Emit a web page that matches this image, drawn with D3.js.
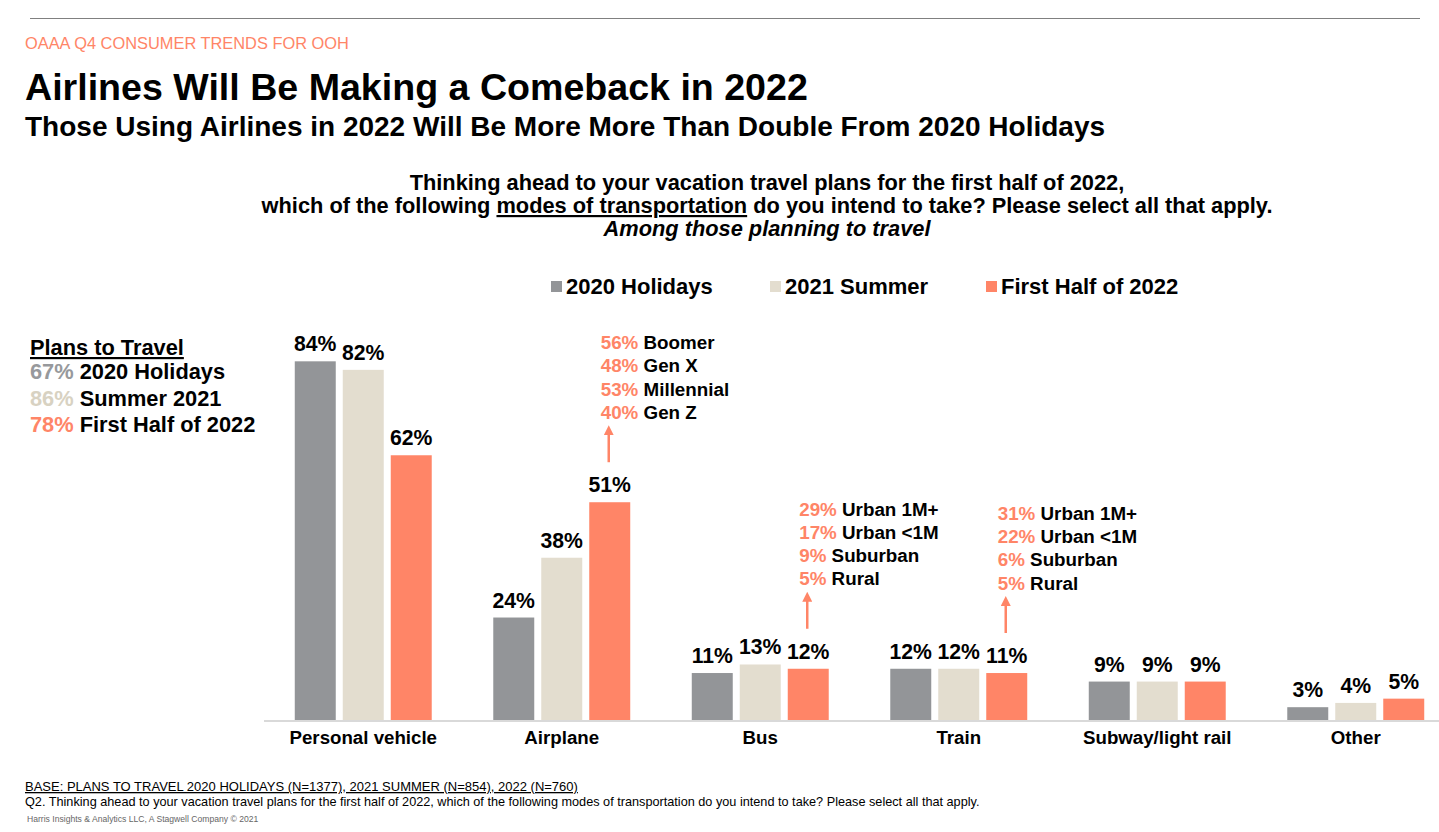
<!DOCTYPE html>
<html><head><meta charset="utf-8">
<script src="https://cdn.jsdelivr.net/npm/d3@7"></script>
<style>
body{margin:0;background:#fff;font-family:"Liberation Sans",Arial,sans-serif;}
svg text{font-family:"Liberation Sans",Arial,sans-serif;}
</style></head>
<body><svg id="c" width="1439" height="832"></svg>
<script>
const categories = ["Personal vehicle","Airplane","Bus","Train","Subway/light rail","Other"];
const seriesNames = ["2020 Holidays","2021 Summer","First Half of 2022"];
const holidays2020 = [84,24,11,12,9,3];
const summer2021 = [82,38,13,12,9,4];
const firstHalf2022 = [62,51,12,11,9,5];
const seriesValues = [holidays2020, summer2021, firstHalf2022];
const colors = ["#939598","#E3DDCF","#FF8567"];
const plansPct = ["67%","86%","78%"];
const plansLabels = ["2020 Holidays","Summer 2021","First Half of 2022"];
const plansColors = ["#97999C","#D8D2C2","#FF8567"];
const airplaneNotes = [["56%","Boomer"],["48%","Gen X"],["53%","Millennial"],["40%","Gen Z"]];
const busNotes = [["29%","Urban 1M+"],["17%","Urban <1M"],["9%","Suburban"],["5%","Rural"]];
const trainNotes = [["31%","Urban 1M+"],["22%","Urban <1M"],["6%","Suburban"],["5%","Rural"]];
const notes = [{cat:"Airplane",lines:airplaneNotes},{cat:"Bus",lines:busNotes},{cat:"Train",lines:trainNotes}];

const svg = d3.select("#c");
const orange = "#FF8567";

// header
svg.append("line").attr("x1",30).attr("x2",1420).attr("y1",18.5).attr("y2",18.5).attr("stroke","#808080").attr("stroke-width",1);
svg.append("text").attr("x",25).attr("y",49).attr("font-size",16.4).attr("fill",orange).text("OAAA Q4 CONSUMER TRENDS FOR OOH");
svg.append("text").attr("x",25).attr("y",100).attr("font-size",37.6).attr("font-weight","bold").text("Airlines Will Be Making a Comeback in 2022");
svg.append("text").attr("x",25).attr("y",136).attr("font-size",28).attr("font-weight","bold").text("Those Using Airlines in 2022 Will Be More More Than Double From 2020 Holidays");

const q = svg.append("text").attr("text-anchor","middle").attr("font-size",21.8).attr("font-weight","bold");
q.append("tspan").attr("x",767).attr("y",190).text("Thinking ahead to your vacation travel plans for the first half of 2022,");
const t2 = q.append("tspan").attr("x",767).attr("y",213);
t2.append("tspan").text("which of the following ");
t2.append("tspan").attr("text-decoration","underline").text("modes of transportation");
t2.append("tspan").text(" do you intend to take? Please select all that apply.");
q.append("tspan").attr("x",767).attr("y",236).attr("font-style","italic").text("Among those planning to travel");

// legend
const legX = [551,770,986];
seriesNames.forEach((s,i)=>{
  svg.append("rect").attr("x",legX[i]).attr("y",281).attr("width",11).attr("height",11).attr("fill",colors[i]);
  svg.append("text").attr("x",legX[i]+15).attr("y",294).attr("font-size",22).attr("font-weight","bold").text(s);
});

// left box
svg.append("text").attr("x",30).attr("y",355).attr("font-size",21.8).attr("font-weight","bold").attr("text-decoration","underline").text("Plans to Travel");
plansPct.forEach((p,i)=>{
  const t = svg.append("text").attr("x",30).attr("y",379+i*26.5).attr("font-size",21.8).attr("font-weight","bold");
  t.append("tspan").attr("fill",plansColors[i]).text(p+" ");
  t.append("tspan").attr("fill","#000").text(plansLabels[i]);
});

// scales
const x0 = d3.scaleBand().domain(categories).range([264,1455]).paddingInner(0.31).paddingOuter(0.155);
const x1 = d3.scaleBand().domain(d3.range(3)).range([0,x0.bandwidth()]).paddingInner(0.146).paddingOuter(0);
const y = d3.scaleLinear().domain([0,100]).range([720,293]);

svg.append("line").attr("x1",264).attr("x2",1439).attr("y1",721).attr("y2",721).attr("stroke","#D9D9D9").attr("stroke-width",2);

const g = svg.append("g");
seriesValues.forEach((vals,si)=>{
  g.selectAll(null).data(vals).enter().append("rect")
    .attr("x",(d,i)=>x0(categories[i])+x1(si))
    .attr("y",d=>y(d)).attr("width",x1.bandwidth()).attr("height",d=>y(0)-y(d))
    .attr("fill",colors[si]);
  g.selectAll(null).data(vals).enter().append("text")
    .attr("x",(d,i)=>x0(categories[i])+x1(si)+x1.bandwidth()/2)
    .attr("y",d=>y(d)-10).attr("text-anchor","middle").attr("font-size",21.2).attr("font-weight","bold")
    .text(d=>d+"%");
});

// axis labels
const xAxis = d3.axisBottom(x0).tickSize(0).tickPadding(0);
const ax = svg.append("g").attr("transform","translate(0,731)").call(xAxis);
ax.select(".domain").remove();
ax.selectAll("text").attr("font-size",18.7).attr("font-weight","bold").attr("fill","#000").attr("dy","0.71em")
  .attr("font-family","Liberation Sans, Arial, sans-serif");

// annotations
svg.append("defs").append("marker").attr("id","ah").attr("viewBox","0 0 10 10").attr("refX",5).attr("refY",5)
  .attr("markerWidth",4).attr("markerHeight",4).attr("orient","auto")
  .append("path").attr("d","M0,0 L10,5 L0,10 Z").attr("fill",orange);
notes.forEach(n=>{
  const ci = categories.indexOf(n.cat);
  const ax_ = x0(n.cat)+x1(2)+x1.bandwidth()/2 - 1;
  const top = y(firstHalf2022[ci]);
  const yb = top-40, yt = yb-38;
  svg.append("line").attr("x1",ax_).attr("x2",ax_).attr("y1",yb).attr("y2",yt+6)
    .attr("stroke",orange).attr("stroke-width",2.5).attr("marker-end","url(#ah)");
  n.lines.forEach((l,i)=>{
    const t = svg.append("text").attr("x",ax_-8).attr("y",yt-75+i*23.2).attr("font-size",18.8).attr("font-weight","bold");
    t.append("tspan").attr("fill",orange).text(l[0]+" ");
    t.append("tspan").attr("fill","#000").text(l[1]);
  });
});

// footer
svg.append("text").attr("x",25).attr("y",791).attr("font-size",13).attr("text-decoration","underline")
  .text("BASE: PLANS TO TRAVEL 2020 HOLIDAYS (N=1377), 2021 SUMMER (N=854), 2022 (N=760)");
svg.append("text").attr("x",25).attr("y",806).attr("font-size",12.7)
  .text("Q2. Thinking ahead to your vacation travel plans for the first half of 2022, which of the following modes of transportation do you intend to take? Please select all that apply.");
svg.append("text").attr("x",27).attr("y",822).attr("font-size",8.6).attr("fill","#666")
  .text("Harris Insights & Analytics LLC, A Stagwell Company © 2021");
</script></body></html>
